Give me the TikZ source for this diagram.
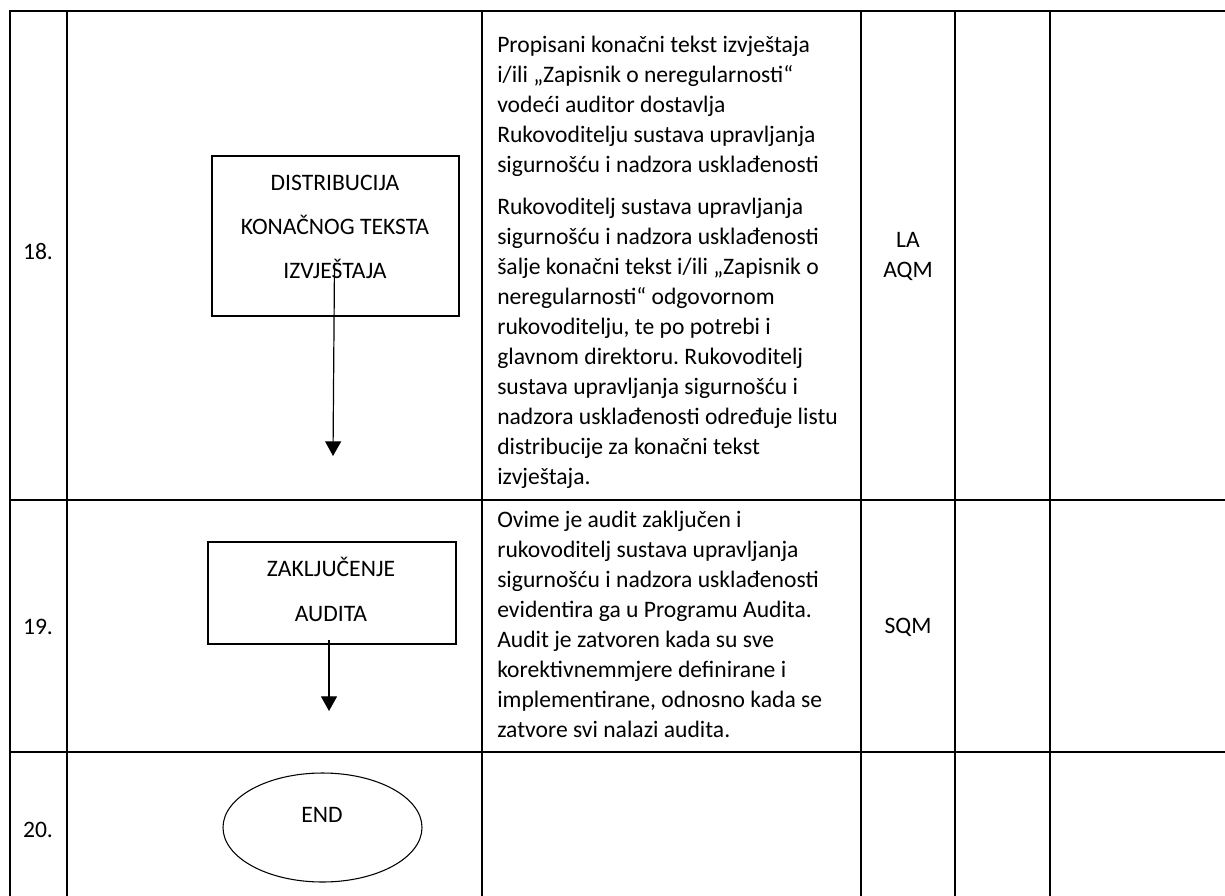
\documentclass[tikz,border=0pt]{standalone}
\usepackage{fontspec}
\setmainfont{Carlito}
\usetikzlibrary{arrows.meta,shapes.geometric}
\begin{document}
\frenchspacing
\begin{tikzpicture}[x=0.75pt,y=-0.75pt,
  grid/.style={line width=1.8pt,line cap=rect},
  flowbox/.style={draw,line width=0.8pt,rectangle,inner sep=0pt},
  cell/.style={inner sep=0pt,font=\fontsize{17.7pt}{22.5pt}\selectfont},
  desc/.style={cell,anchor=base west,align=flush left,text width=270pt},
  boxtext/.style={inner sep=0pt,align=center,font=\fontsize{17.7pt}{33pt}\selectfont},
  flowarrow/.style={line width=0.9pt,-{Triangle[width=12pt,length=11pt]}}
]
\useasboundingbox (0,0) rectangle (1225,896);
% table
\draw[grid] (10,11) -- (1225,11);
\draw[grid] (10,500) -- (1225,500);
\draw[grid] (10,752) -- (1225,752);
\foreach \x in {10,67,482,861,955,1050} \draw[grid] (\x,11) -- (\x,896);
% row numbers
\node[cell] (n18) at (38,252) {18.};
\node[cell] (n19) at (38,627) {19.};
\node[cell] (n20) at (38,830) {20.};
% flow shapes
\node[flowbox,minimum width=185.25pt,minimum height=120pt] (b18) at (335.5,236) {};
\node[boxtext] (t18) at (335,227) {DISTRIBUCIJA\\KONAČNOG TEKSTA\\IZVJEŠTAJA};
\node[flowbox,minimum width=186pt,minimum height=76.5pt] (b19) at (332,593) {};
\node[boxtext,font=\fontsize{17.7pt}{33.75pt}\selectfont] (t19) at (331,589.5) {ZAKLJUČENJE\\AUDITA};
\node[draw,ellipse,line width=0.8pt,inner sep=0pt,minimum width=149.25pt,minimum height=81.75pt] (e20) at (322.5,827.5) {};
\node[cell] (t20) at (322,815) {END};
% arrows
\coordinate (a1s) at (334.5,263);
\coordinate (a1e) at (333,456);
\draw[flowarrow] (a1s) -- (a1e);
\coordinate (a2s) at (329,640);
\coordinate (a2e) at (329,711);
\draw[flowarrow] (a2s) -- (a2e);
% descriptions
\node[desc] (d18) at (497,52) {Propisani konačni tekst izvještaja\\
i/ili „Zapisnik o neregularnosti“\\
vodeći auditor dostavlja\\
Rukovoditelju sustava upravljanja\\
sigurnošću i nadzora usklađenosti\\[9pt]
Rukovoditelj sustava upravljanja\\
sigurnošću i nadzora usklađenosti\\
šalje konačni tekst i/ili „Zapisnik o\\
neregularnosti“ odgovornom\\
rukovoditelju, te po potrebi i\\
glavnom direktoru. Rukovoditelj\\
sustava upravljanja sigurnošću i\\
nadzora usklađenosti određuje listu\\
distribucije za konačni tekst\\
izvještaja.};
\node[desc] (d19) at (497,527) {Ovime je audit zaključen i\\
rukovoditelj sustava upravljanja\\
sigurnošću i nadzora usklađenosti\\
evidentira ga u Programu Audita.\\
Audit je zatvoren kada su sve\\
korektivnemmjere definirane i\\
implementirane, odnosno kada se\\
zatvore svi nalazi audita.};
% responsibility
\node[cell,align=center] (r18) at (908,256) {LA\\AQM};
\node[cell] (r19) at (908,627) {SQM};
\end{tikzpicture}
\end{document}
